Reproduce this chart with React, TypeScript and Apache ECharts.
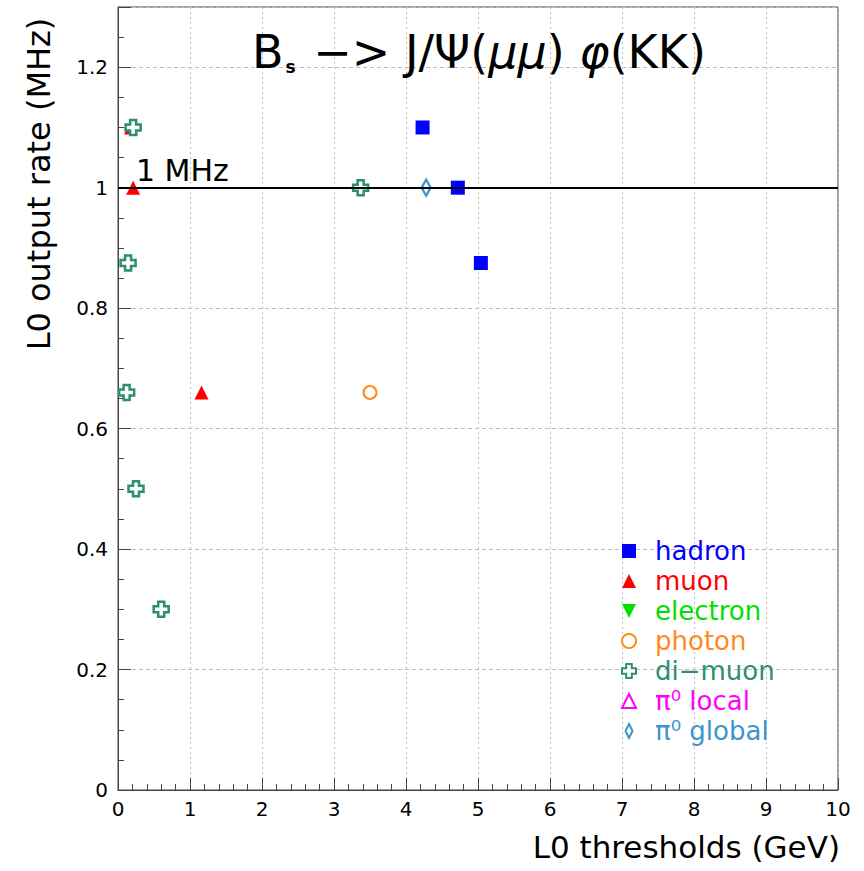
import React, { useEffect, useRef } from "react";
import * as echarts from "echarts";

const hadronX = [4.23, 4.72, 5.04];
const hadronY = [1.1, 1.0, 0.875];
const muonX = [0.18, 0.21, 1.16];
const muonY = [1.1, 1.0, 0.66];
const electronX: number[] = [];
const electronY: number[] = [];
const photonX = [3.5];
const photonY = [0.66];
const dimuonX = [0.21, 0.14, 0.12, 0.25, 0.6, 3.37];
const dimuonY = [1.1, 0.875, 0.66, 0.5, 0.3, 1.0];
const pi0LocalX: number[] = [];
const pi0LocalY: number[] = [];
const pi0GlobalX = [4.28];
const pi0GlobalY = [1.0];
const rateLimit = 1;

const FONT = "DejaVu Sans";
const C = {
  hadron: "#0000ff",
  muon: "#ff0000",
  electron: "#00e000",
  photon: "#ff8a1c",
  dimuon: "#2e8f6c",
  pi0local: "#ff00ff",
  pi0global: "#3d95cc",
};
const CROSS = "path://M3,0H7V3H10V7H7V10H3V7H0V3H3Z";
const DOWN = "path://M0,0L10,0L5,10Z";
const DIAMOND = "path://M5,0L10,10L5,20L0,10Z";

const zip = (xs: number[], ys: number[]) => xs.map((x, i) => [x, ys[i]]);

export default function App() {
  const ref = useRef<HTMLDivElement>(null);
  useEffect(() => {
    const chart = echarts.init(ref.current!, null, { renderer: "svg" });
    const names = ["hadron", "muon", "electron", "photon", "di\u2212muon", "\u03c0\u2070 local", "\u03c0\u2070 global"];
    const cols = [C.hadron, C.muon, C.electron, C.photon, C.dimuon, C.pi0local, C.pi0global];
    chart.setOption({
      animation: false,
      backgroundColor: "#fff",
      textStyle: { fontFamily: FONT },
      title: {
        left: 247,
        top: 24,
        text: "{a|B}{s|s}{a| \u2212> J/\u03a8(}{i|\u03bc\u03bc}{a|) }{i|\u03c6}{a|(KK)}",
        textStyle: {
          fontWeight: "normal",
          rich: {
            a: { fontSize: 46, color: "#000", fontFamily: FONT, fontWeight: "normal" },
            i: { fontSize: 46, color: "#000", fontFamily: FONT, fontWeight: "normal", fontStyle: "italic" },
            s: { fontSize: 17, color: "#000", fontFamily: FONT, fontWeight: "bold", verticalAlign: "bottom", padding: [18, 3, 0, 2] },
          },
        },
      },
      grid: { left: 118, right: 26, top: 7, bottom: 81, show: true, borderColor: "#444", borderWidth: 1 },
      xAxis: {
        type: "value",
        min: 0,
        max: 10,
        interval: 1,
        axisLine: { lineStyle: { color: "#444" } },
        axisTick: { inside: true, length: 12, lineStyle: { color: "#444" } },
        minorTick: { show: true, splitNumber: 5, length: 6, lineStyle: { color: "#444" } },
        axisLabel: { fontSize: 20, color: "#000", margin: 9, fontFamily: FONT },
        splitLine: { show: true, lineStyle: { color: "#bbb", type: [2, 3], width: 1 } },
      },
      yAxis: {
        type: "value",
        min: 0,
        max: 1.3,
        interval: 0.2,
        axisLine: { lineStyle: { color: "#444" } },
        axisTick: { inside: true, length: 13, lineStyle: { color: "#444" } },
        minorTick: { show: true, splitNumber: 4, length: 6, lineStyle: { color: "#444" } },
        axisLabel: { fontSize: 20, color: "#000", margin: 10, showMaxLabel: false, fontFamily: FONT },
        splitLine: { show: true, lineStyle: { color: "#bbb", type: [4, 3], width: 1 } },
      },
      legend: {
        orient: "vertical",
        left: 616,
        top: 533,
        itemWidth: 14,
        itemHeight: 14,
        itemGap: 4,
        selectedMode: false,
        textStyle: { fontSize: 26, fontFamily: FONT, padding: [0, 0, 0, 14] },
        data: names.map((n, i) => ({ name: n, textStyle: { color: cols[i] } })),
      },
      graphic: [
        {
          type: "text",
          x: 39,
          y: 184,
          rotation: Math.PI / 2,
          style: { text: "L0 output rate (MHz)", fontSize: 32, fontFamily: FONT, fill: "#000", align: "center", verticalAlign: "middle" },
        },
        {
          type: "text",
          x: 840,
          y: 847,
          style: { text: "L0 thresholds (GeV)", fontSize: 31, fontFamily: FONT, fill: "#000", align: "right", verticalAlign: "middle" },
        },
      ],
      series: [
        {
          type: "scatter",
          name: "limit",
          data: [],
          z: 1,
          markLine: {
            silent: true,
            symbol: "none",
            lineStyle: { color: "#000", width: 2, type: "solid" },
            label: {
              show: true,
              position: "insideStartTop",
              formatter: "1 MHz",
              fontSize: 30,
              color: "#000",
              fontFamily: FONT,
              distance: [18, 2],
            },
            data: [{ yAxis: rateLimit }],
          },
        },
        {
          type: "scatter", name: names[0], z: 3, symbol: "rect", symbolSize: 14,
          itemStyle: { color: C.hadron, opacity: 1 }, data: zip(hadronX, hadronY),
        },
        {
          type: "scatter", name: names[1], z: 3, symbol: "triangle", symbolSize: 14,
          itemStyle: { color: C.muon, opacity: 1 }, data: zip(muonX, muonY),
        },
        {
          type: "scatter", name: names[2], z: 3, symbol: DOWN, symbolSize: 13,
          itemStyle: { color: C.electron, opacity: 1 }, data: zip(electronX, electronY),
        },
        {
          type: "scatter", name: names[3], z: 3, symbol: "emptyCircle", symbolSize: 13,
          itemStyle: { color: C.photon, borderWidth: 2.5, opacity: 1 }, data: zip(photonX, photonY),
        },
        {
          type: "scatter", name: names[4], z: 4, symbol: CROSS, symbolSize: 15,
          itemStyle: { color: "#fff", borderColor: C.dimuon, borderWidth: 2.5, opacity: 1 }, data: zip(dimuonX, dimuonY),
        },
        {
          type: "scatter", name: names[5], z: 3, symbol: "emptyTriangle", symbolSize: 14,
          itemStyle: { color: C.pi0local, borderWidth: 2.5, opacity: 1 }, data: zip(pi0LocalX, pi0LocalY),
        },
        {
          type: "scatter", name: names[6], z: 3, symbol: DIAMOND, symbolSize: [9, 16],
          itemStyle: { color: "#fff", borderColor: C.pi0global, borderWidth: 2.5, opacity: 1 }, data: zip(pi0GlobalX, pi0GlobalY),
        },
      ],
    });
    return () => chart.dispose();
  }, []);
  return <div ref={ref} style={{ width: 864, height: 871, position: "absolute", left: 0, top: 0 }} />;
}
